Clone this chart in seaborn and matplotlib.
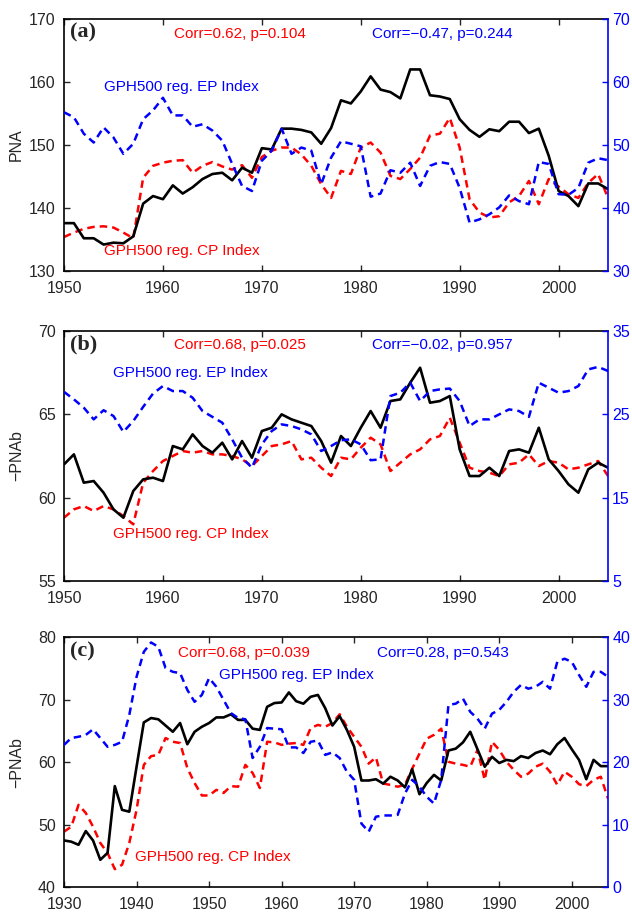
import matplotlib
matplotlib.use('Agg')
import matplotlib.pyplot as plt
import seaborn as sns

# years
years_ab = list(range(1950, 2006))
years_c = list(range(1930, 2006))

# panel (a): PNA (black), CP-regressed (red, left axis), EP-regressed (blue, right axis)
pna_a = [137.6, 137.6, 135.2, 135.2, 134.2, 134.5, 134.4, 135.5, 140.7, 141.9,
         141.4, 143.6, 142.3, 143.3, 144.6, 145.4, 145.6, 144.4, 146.4, 145.6,
         149.5, 149.3, 152.6, 152.6, 152.4, 152.0, 150.2, 152.7, 157.1, 156.6,
         158.5, 160.9, 158.8, 158.4, 157.4, 162.0, 162.0, 157.9, 157.7, 157.3,
         154.1, 152.4, 151.3, 152.5, 152.2, 153.7, 153.7, 151.9, 152.6, 148.3,
         142.7, 141.9, 140.3, 143.9, 143.9, 143.0]
cp_a = [135.4, 136.1, 136.7, 137.0, 137.1, 136.9, 136.1, 135.2, 144.8, 146.7,
        147.2, 147.5, 147.6, 145.6, 146.7, 147.3, 146.6, 146.1, 146.8, 144.8,
        148.1, 149.1, 149.6, 149.6, 148.5, 146.7, 143.8, 141.6, 145.9, 145.4,
        149.6, 150.4, 148.8, 145.1, 144.6, 146.2, 148.0, 151.5, 151.8, 154.3,
        149.6, 141.4, 139.3, 138.5, 138.7, 140.9, 141.9, 144.3, 140.6, 144.6,
        143.4, 142.2, 141.6, 144.0, 145.4, 141.6]
ep_a = [55.2, 54.4, 51.8, 50.4, 52.8, 51.2, 48.6, 50.2, 54.1, 55.5,
        57.5, 54.7, 54.7, 52.9, 53.3, 52.3, 50.7, 47.0, 43.5, 42.7,
        47.5, 49.1, 52.6, 48.6, 49.6, 49.1, 43.8, 48.0, 50.6, 50.2,
        49.8, 41.8, 42.3, 46.0, 45.6, 47.2, 43.5, 46.7, 47.3, 47.0,
        43.2, 37.7, 38.2, 39.0, 40.1, 42.0, 41.1, 40.6, 47.3, 47.0,
        42.2, 42.1, 43.2, 47.2, 47.9, 47.6]

# panel (b): -PNAb
pna_b = [62.0, 62.6, 60.9, 61.0, 60.3, 59.3, 58.8, 60.4, 61.1, 61.2,
         61.0, 63.1, 62.9, 63.8, 63.1, 62.7, 63.3, 62.3, 63.4, 62.4,
         64.0, 64.2, 65.0, 64.7, 64.5, 64.3, 63.4, 62.1, 63.7, 63.1,
         64.2, 65.2, 64.2, 65.8, 65.9, 66.9, 67.8, 65.7, 65.8, 66.1,
         62.9, 61.3, 61.3, 61.8, 61.3, 62.8, 62.9, 62.7, 64.2, 62.3,
         61.6, 60.8, 60.3, 61.7, 62.1, 61.8]
cp_b = [58.8, 59.3, 59.5, 59.2, 59.5, 59.3, 58.9, 58.4, 60.9, 61.6,
        62.2, 62.5, 62.8, 62.7, 62.8, 62.6, 62.6, 62.5, 62.3, 61.9,
        62.5, 63.1, 63.2, 63.4, 62.3, 62.4, 61.8, 61.3, 62.4, 62.3,
        63.0, 63.6, 63.2, 61.6, 62.1, 62.6, 62.9, 63.5, 63.7, 64.8,
        63.3, 61.8, 61.6, 61.5, 61.3, 62.0, 62.1, 62.6, 61.9, 62.2,
        62.1, 61.7, 61.8, 62.0, 62.2, 61.3]
ep_b = [27.7, 26.8, 25.8, 24.4, 25.5, 24.8, 22.9, 24.2, 25.9, 27.5,
        28.4, 27.8, 27.8, 27.0, 25.4, 24.7, 24.0, 22.0, 19.8, 18.6,
        21.4, 23.0, 23.8, 23.6, 23.2, 22.6, 20.6, 21.2, 21.9, 22.0,
        21.4, 19.5, 19.6, 27.2, 27.6, 28.8, 26.6, 27.8, 28.0, 28.1,
        26.6, 23.6, 24.4, 24.4, 25.0, 25.6, 25.4, 24.7, 28.8, 28.2,
        27.6, 27.8, 28.4, 30.4, 30.7, 30.2]

# panel (c): -PNAb, longer record
pna_c = [47.5, 47.3, 46.8, 49.0, 47.5, 44.4, 45.5, 56.2, 52.4, 52.1,
         59.3, 66.4, 67.1, 66.9, 65.9, 64.9, 66.3, 62.9, 64.9, 65.7,
         66.3, 67.2, 67.2, 67.7, 66.8, 66.8, 65.4, 65.2, 68.9, 69.5,
         69.6, 71.2, 69.8, 69.4, 70.5, 70.8, 68.7, 65.9, 67.4, 65.2,
         62.5, 57.1, 57.1, 57.3, 56.6, 57.7, 57.1, 56.0, 58.9, 54.9,
         56.7, 58.0, 57.1, 61.9, 62.2, 63.2, 64.9, 62.1, 59.3, 60.9,
         59.9, 60.4, 60.2, 61.0, 60.7, 61.5, 61.9, 61.3, 62.9, 63.9,
         62.1, 60.4, 57.3, 60.4, 59.4, 59.4]
cp_c = [48.9, 49.7, 53.2, 51.9, 49.7, 47.1, 45.5, 42.9, 43.6, 47.1,
        52.4, 59.6, 61.0, 61.2, 63.9, 63.3, 63.1, 59.1, 56.7, 54.7,
        54.7, 55.6, 55.1, 56.2, 56.1, 59.6, 58.3, 55.9, 63.3, 63.2,
        62.8, 63.0, 63.1, 62.8, 65.5, 66.0, 65.7, 66.3, 67.7, 65.7,
        64.1, 62.5, 59.8, 60.8, 56.6, 56.4, 56.1, 56.4, 59.0, 61.4,
        63.8, 64.4, 65.4, 60.1, 59.8, 59.6, 59.3, 62.0, 57.2, 63.3,
        62.0, 60.1, 58.8, 57.7, 58.2, 59.3, 59.8, 58.5, 56.4, 58.5,
        57.7, 56.5, 56.2, 57.2, 57.7, 54.2]
ep_c = [22.8, 23.9, 24.1, 24.4, 25.3, 23.9, 22.5, 22.8, 23.3, 27.6,
        33.7, 37.7, 39.2, 38.5, 35.1, 34.5, 34.3, 31.6, 29.7, 30.8,
        33.5, 32.1, 30.0, 27.9, 27.1, 26.9, 20.7, 22.5, 25.5, 25.4,
        25.3, 22.4, 22.4, 21.5, 23.3, 23.5, 21.2, 21.6, 20.7, 18.5,
        17.2, 10.2, 8.9, 11.3, 11.5, 11.5, 11.6, 15.0, 17.2, 16.1,
        14.5, 13.4, 17.2, 29.2, 29.4, 30.2, 28.1, 27.0, 25.4, 27.8,
        28.4, 29.7, 31.3, 32.4, 31.8, 32.1, 32.9, 31.8, 36.1, 36.6,
        36.1, 34.0, 32.1, 34.5, 34.5, 33.7]

letters = ['(a)', '(b)', '(c)']
ylabels = ['PNA', '\u2212PNAb', '\u2212PNAb']
corr_cp = ['Corr=0.62, p=0.104', 'Corr=0.68, p=0.025', 'Corr=0.68, p=0.039']
corr_ep = ['Corr=\u22120.47, p=0.244', 'Corr=\u22120.02, p=0.957', 'Corr=0.28, p=0.543']

sns.set_style('ticks')
plt.rcParams['font.family'] = ['Liberation Sans', 'DejaVu Sans']
plt.rcParams['font.size'] = 11

fig = plt.figure(figsize=(6.32, 9.15), dpi=100)

dash = (0, (3, 2))

panels = [
    dict(rect=[0.1013, 0.7038, 0.8608, 0.2754], years=years_ab, pna=pna_a, cp=cp_a, ep=ep_a,
         ylim=(130, 170), yticks=[130, 140, 150, 160, 170],
         y2lim=(30, 70), y2ticks=[30, 40, 50, 60, 70],
         xlim=(1950, 2005), xticks=[1950, 1960, 1970, 1980, 1990, 2000],
         ep_pos=(0.074, 0.731), cp_pos=(0.074, 0.079), corr_y=0.940,
         cp_x=0.323, ep_x=0.695),
    dict(rect=[0.1013, 0.3650, 0.8608, 0.2732], years=years_ab, pna=pna_b, cp=cp_b, ep=ep_b,
         ylim=(55, 70), yticks=[55, 60, 65, 70],
         y2lim=(5, 35), y2ticks=[5, 15, 25, 35],
         xlim=(1950, 2005), xticks=[1950, 1960, 1970, 1980, 1990, 2000],
         ep_pos=(0.090, 0.832), cp_pos=(0.090, 0.188), corr_y=0.944,
         cp_x=0.323, ep_x=0.695),
    dict(rect=[0.1013, 0.0303, 0.8608, 0.2730], years=years_c, pna=pna_c, cp=cp_c, ep=ep_c,
         ylim=(40, 80), yticks=[40, 50, 60, 70, 80],
         y2lim=(0, 40), y2ticks=[0, 10, 20, 30, 40],
         xlim=(1930, 2005), xticks=[1930, 1940, 1950, 1960, 1970, 1980, 1990, 2000],
         ep_pos=(0.284, 0.849), cp_pos=(0.131, 0.120), corr_y=0.939,
         cp_x=0.331, ep_x=0.696),
]

for i, p in enumerate(panels):
    ax = fig.add_axes(p['rect'])
    ax2 = ax.twinx()

    sns.lineplot(x=p['years'], y=p['cp'], ax=ax, color='red', lw=1.8, linestyle=dash)
    sns.lineplot(x=p['years'], y=p['pna'], ax=ax, color='black', lw=1.9)
    sns.lineplot(x=p['years'], y=p['ep'], ax=ax2, color='blue', lw=1.8, linestyle=dash)

    ax.set_xlim(*p['xlim'])
    ax.set_xticks(p['xticks'])
    ax.set_ylim(*p['ylim'])
    ax.set_yticks(p['yticks'])
    ax2.set_ylim(*p['y2lim'])
    ax2.set_yticks(p['y2ticks'])

    ax.set_ylabel(ylabels[i], fontsize=11.5)
    ax.yaxis.set_label_coords(-0.074, 0.5)
    ax2.set_ylabel('')
    ax.set_xlabel('')

    for s in ['left', 'bottom', 'top']:
        ax.spines[s].set_linewidth(1.2)
        ax.spines[s].set_color('black')
    ax.spines['right'].set_visible(False)
    for s in ['left', 'bottom', 'top']:
        ax2.spines[s].set_visible(False)
    ax2.spines['right'].set_color('blue')
    ax2.spines['right'].set_linewidth(1.2)

    ax.tick_params(axis='x', direction='in', length=4, width=1, top=True,
                   labelsize=11.5, pad=7)
    ax.tick_params(axis='y', direction='in', length=4, width=1, right=False,
                   labelsize=11.5, pad=6)
    ax2.tick_params(axis='y', direction='in', length=4, width=1, colors='blue',
                    labelsize=11.5, pad=3)

    ax2.text(0.011, 0.945, letters[i], transform=ax.transAxes, ha='left', va='center',
             fontsize=16, fontweight='bold', family=['Liberation Serif', 'DejaVu Serif'])
    ax2.text(p['cp_x'], p['corr_y'], corr_cp[i], transform=ax.transAxes,
             ha='center', va='center', color='red', fontsize=11)
    ax2.text(p['ep_x'], p['corr_y'], corr_ep[i], transform=ax.transAxes,
             ha='center', va='center', color='blue', fontsize=11)
    ax2.text(p['ep_pos'][0], p['ep_pos'][1], 'GPH500 reg. EP Index', transform=ax.transAxes,
             ha='left', va='center', color='blue', fontsize=11)
    ax2.text(p['cp_pos'][0], p['cp_pos'][1], 'GPH500 reg. CP Index', transform=ax.transAxes,
             ha='left', va='center', color='red', fontsize=11)

fig.savefig('out.png', dpi=100)
